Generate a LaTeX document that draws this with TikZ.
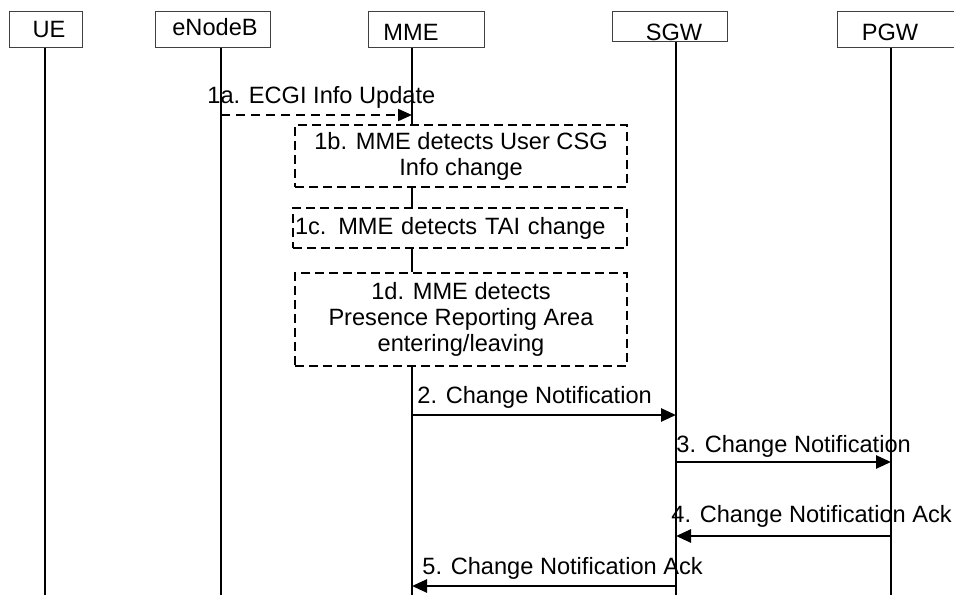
\documentclass[tikz,border=0pt]{standalone}
\usepackage{fontspec}
\setmainfont{Liberation Sans}
\usetikzlibrary{arrows.meta, positioning}

\begin{document}
\begin{tikzpicture}[
    x=0.5pt, y=-0.5pt,
    font=\fontsize{11.8}{13}\selectfont,
    actor/.style={draw=black!75, line width=0.5pt, inner sep=0pt, minimum height=18pt},
    lbl/.style={inner sep=0pt},
    lifeline/.style={line width=0.8pt},
    msg/.style={line width=1.3pt, -{Triangle[length=7.5pt, width=6.5pt]}},
    stepbox/.style={draw, dashed, line width=0.75pt, dash pattern=on 4.5pt off 2.5pt,
        align=center, inner sep=0pt, minimum width=166pt},
]
    \useasboundingbox (0,0) rectangle (954,595);

    % Participants
    \node[actor, minimum width=36.5pt] (ue) at (45.5,29) {};
    \node[actor, minimum width=57.5pt] (enb) at (212.5,29) {};
    \node[actor, minimum width=58pt] (mme) at (426,29) {};
    \node[actor, minimum width=57.5pt, minimum height=15pt] (sgw) at (669.5,26) {};
    \node[actor, minimum width=61.5pt] (pgw) at (898.5,29) {};
    \node[lbl] (ueL) at (49,29) {UE};
    \node[lbl] (enbL) at (215,27.5) {eNodeB};
    \node[lbl] (mmeL) at (411,32.5) {MME};
    \node[lbl] (sgwL) at (674,32.5) {SGW};
    \node[lbl] (pgwL) at (890,32.5) {PGW};

    % Lifeline ends
    \foreach \n/\x in {ue/45, enb/221, mme/412, sgw/676, pgw/891}{
        \coordinate (\n-top) at (\n.south -| \x,0);
        \coordinate (\n-bot) at (\x,595);
    }

    % MME steps
    \node[stepbox, minimum height=31pt] (b1) at (461,156)
        {1b. MME detects User CSG\\Info change};
    \node[stepbox, minimum width=167pt, minimum height=20pt, text width=165pt, align=left] (c1) at (460,228)
        {1c. MME detects TAI change};
    \node[stepbox, minimum height=46.5pt] (d1) at (461,319.5)
        {1d. MME detects\\Presence Reporting Area\\entering/leaving};

    % Lifelines
    \draw[lifeline] (ue-top) -- (ue-bot);
    \draw[lifeline] (enb-top) -- (enb-bot);
    \draw[lifeline] (sgw-top) -- (sgw-bot);
    \draw[lifeline] (pgw-top) -- (pgw-bot);
    \draw[lifeline] (mme-top) -- (mme-top |- b1.north);
    \draw[lifeline] (mme-top |- b1.south) -- (mme-top |- c1.north);
    \draw[lifeline] (mme-top |- c1.south) -- (mme-top |- d1.north);
    \draw[lifeline] (mme-top |- d1.south) -- (mme-bot);

    % Messages
    \draw[line width=1pt, dash pattern=on 4.5pt off 3pt, -{Triangle[length=7pt, width=6pt]}]
        (enb-top |- 0,115) -- (mme-top |- 0,115);
    \draw[msg] (mme-top |- 0,415) -- (sgw-top |- 0,415);
    \draw[msg] (sgw-top |- 0,462) -- (pgw-top |- 0,462);
    \draw[msg] (pgw-top |- 0,536) -- (sgw-top |- 0,536);
    \draw[msg] (sgw-top |- 0,586) -- (mme-top |- 0,586);

    % Labels
    \node[lbl, anchor=base west] (m1a) at (207,103) {1a. ECGI Info Update};
    \node[lbl, anchor=base west] (m2) at (417,403) {2. Change Notification};
    \node[lbl, anchor=base west] (m3) at (676,452) {3. Change Notification};
    \node[lbl, anchor=base west] (m4) at (671,522) {4. Change Notification Ack};
    \node[lbl, anchor=base west] (m5) at (422,574) {5. Change Notification Ack};
\end{tikzpicture}
\end{document}
